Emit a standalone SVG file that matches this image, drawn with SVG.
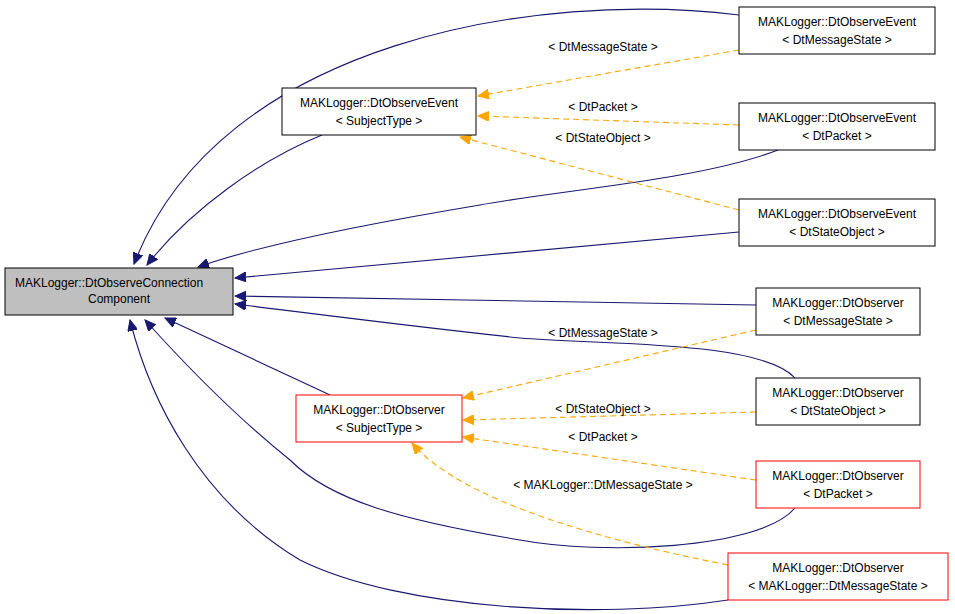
<svg xmlns="http://www.w3.org/2000/svg" width="955" height="614" viewBox="0 0 955 614">
<style>
text{font-family:"Liberation Sans",Arial,sans-serif;font-size:12px;fill:#000}
.n rect{fill:#fff;stroke:#000;stroke-width:1}
.r rect{stroke:#f00}
.b{fill:none;stroke:#191970;stroke-width:1.1}
.o{fill:none;stroke:#ffa500;stroke-width:1.1;stroke-dasharray:6,4}
</style>
<defs>
<marker id="mb" markerWidth="12" markerHeight="10" refX="11" refY="5" orient="auto" markerUnits="userSpaceOnUse"><path d="M0,0 L11,5 L0,10 z" fill="#191970" stroke="#191970"/></marker>
<marker id="mo" markerWidth="12" markerHeight="10" refX="11" refY="5" orient="auto" markerUnits="userSpaceOnUse"><path d="M0,0 L11,5 L0,10 z" fill="#ffa500" stroke="#ffa500"/></marker>
</defs>
<rect width="955" height="614" fill="#fff"/>
<g id="edges">
<path class="b" marker-end="url(#mb)" d="M739,15 C540,-10 220,40 134,264"/>
<path class="b" marker-end="url(#mb)" d="M322,135 C260,160 190,210 147,265"/>
<path class="b" marker-end="url(#mb)" d="M778,150 C700,180 560,190 480,205 C360,225 260,245 198,267"/>
<path class="b" marker-end="url(#mb)" d="M739,232 L235,278"/>
<path class="b" marker-end="url(#mb)" d="M756,305 L235,296"/>
<path class="b" marker-end="url(#mb)" d="M795,378 C760,340 600,345 520,338 C400,325 300,312 235,304"/>
<path class="b" marker-end="url(#mb)" d="M330,395 L165,318"/>
<path class="b" marker-end="url(#mb)" d="M795,508 C760,550 600,555 520,540 C400,520 330,500 290,460 C240,420 190,370 145,320"/>
<path class="b" marker-end="url(#mb)" d="M728,600 C600,620 400,610 300,560 C200,500 150,400 130,320"/>
<path class="o" marker-end="url(#mo)" d="M739,50 L478,96"/>
<path class="o" marker-end="url(#mo)" d="M739,125 L478,116"/>
<path class="o" marker-end="url(#mo)" d="M739,210 L460,137"/>
<path class="o" marker-end="url(#mo)" d="M756,330 L463,398"/>
<path class="o" marker-end="url(#mo)" d="M756,412 L463,420"/>
<path class="o" marker-end="url(#mo)" d="M756,480 L463,437"/>
<path class="o" marker-end="url(#mo)" d="M728,565 C600,540 460,500 412,443"/>
<text x="603" y="51" text-anchor="middle">&lt; DtMessageState &gt;</text>
<text x="603" y="111" text-anchor="middle">&lt; DtPacket &gt;</text>
<text x="603" y="142" text-anchor="middle">&lt; DtStateObject &gt;</text>
<text x="603" y="337" text-anchor="middle">&lt; DtMessageState &gt;</text>
<text x="603" y="413" text-anchor="middle">&lt; DtStateObject &gt;</text>
<text x="603" y="441" text-anchor="middle">&lt; DtPacket &gt;</text>
<text x="603" y="489" text-anchor="middle">&lt; MAKLogger::DtMessageState &gt;</text>
</g>
<g id="main" class="n"><rect x="5" y="268" width="228" height="47" style="fill:#bfbfbf"/><text x="15" y="287">MAKLogger::DtObserveConnection</text><text x="119" y="303" text-anchor="middle">Component</text></g>
<g id="oe_subject" class="n"><rect x="282" y="88" width="194" height="47"/><text x="379" y="107" text-anchor="middle">MAKLogger::DtObserveEvent</text><text x="379" y="125" text-anchor="middle">&lt; SubjectType &gt;</text></g>
<g id="oe_msg" class="n"><rect x="739" y="7" width="196" height="47"/><text x="837" y="26" text-anchor="middle">MAKLogger::DtObserveEvent</text><text x="837" y="44" text-anchor="middle">&lt; DtMessageState &gt;</text></g>
<g id="oe_pkt" class="n"><rect x="739" y="103" width="196" height="47"/><text x="837" y="122" text-anchor="middle">MAKLogger::DtObserveEvent</text><text x="837" y="140" text-anchor="middle">&lt; DtPacket &gt;</text></g>
<g id="oe_state" class="n"><rect x="739" y="199" width="196" height="47"/><text x="837" y="218" text-anchor="middle">MAKLogger::DtObserveEvent</text><text x="837" y="236" text-anchor="middle">&lt; DtStateObject &gt;</text></g>
<g id="ob_msg" class="n"><rect x="756" y="288" width="164" height="47"/><text x="838" y="307" text-anchor="middle">MAKLogger::DtObserver</text><text x="838" y="325" text-anchor="middle">&lt; DtMessageState &gt;</text></g>
<g id="ob_state" class="n"><rect x="756" y="378" width="164" height="47"/><text x="838" y="397" text-anchor="middle">MAKLogger::DtObserver</text><text x="838" y="415" text-anchor="middle">&lt; DtStateObject &gt;</text></g>
<g id="ob_subject" class="n r"><rect x="296" y="395" width="166" height="47"/><text x="379" y="414" text-anchor="middle">MAKLogger::DtObserver</text><text x="379" y="432" text-anchor="middle">&lt; SubjectType &gt;</text></g>
<g id="ob_pkt" class="n r"><rect x="756" y="461" width="164" height="47"/><text x="838" y="480" text-anchor="middle">MAKLogger::DtObserver</text><text x="838" y="498" text-anchor="middle">&lt; DtPacket &gt;</text></g>
<g id="ob_makmsg" class="n r"><rect x="728" y="553" width="220" height="47"/><text x="838" y="572" text-anchor="middle">MAKLogger::DtObserver</text><text x="838" y="590" text-anchor="middle">&lt; MAKLogger::DtMessageState &gt;</text></g>
</svg>
